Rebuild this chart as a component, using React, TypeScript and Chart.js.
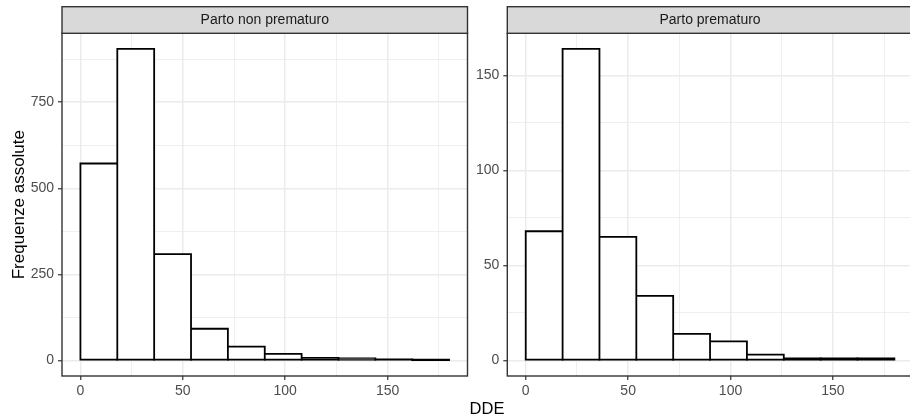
import React, { useEffect, useRef } from 'react';
import { Chart, registerables } from 'chart.js';
Chart.register(...registerables);

const binStarts = [0, 18, 36, 54, 72, 90, 108, 126, 144, 162];
const binWidth = 18;
const nonPretermCounts = [572, 905, 309, 92, 40, 19, 7, 6, 3, 1];
const pretermCounts = [68, 164, 65, 34, 14, 10, 3, 1, 1, 1];
const xMajorTicks = [0, 50, 100, 150];
const xMinorTicks = [25, 75, 125, 175];
const leftYMajor = [0, 250, 500, 750];
const leftYMinor = [125, 375, 625, 875];
const rightYMajor = [0, 50, 100, 150];
const rightYMinor = [25, 75, 125];
const panelTitles = ['Parto non prematuro', 'Parto prematuro'];
const xTitle = 'DDE';
const yTitle = 'Frequenze assolute';

const FONT = "'Liberation Sans', Arial, Helvetica, sans-serif";
const H = 415;
const STROKE = 1.8;

function makeTicks(major: number[], minor: number[]) {
  return [...major, ...minor].sort((a, b) => a - b).map((v) => ({ value: v }));
}

type PanelCfg = {
  counts: number[];
  title: string;
  yMajor: number[];
  yMinor: number[];
  yAxisWidth: number;
  padRight: number;
  drawYTitle: boolean;
};

function buildConfig(p: PanelCfg): any {
  const maxC = Math.max(...p.counts);
  const xMin = binStarts[0];
  const xMax = binStarts[binStarts.length - 1] + binWidth;
  const xr = xMax - xMin;
  const isMajorX = (v: number) => xMajorTicks.includes(v);
  const isMajorY = (v: number) => p.yMajor.includes(v);
  const points = binStarts.map((s, i) => ({ x: s + binWidth / 2, y: p.counts[i] }));

  const panelPlugin = {
    id: 'panelDecor',
    afterDraw(chart: any) {
      const { ctx, chartArea } = chart;
      const { left, right, top, bottom } = chartArea;
      ctx.save();
      ctx.strokeStyle = '#333333';
      ctx.lineWidth = 1.4;
      ctx.strokeRect(left, top, right - left, bottom - top);
      const stripTop = 6.7;
      ctx.fillStyle = '#D9D9D9';
      ctx.fillRect(left, stripTop, right - left, top - stripTop);
      ctx.strokeRect(left, stripTop, right - left, top - stripTop);
      ctx.fillStyle = '#1A1A1A';
      ctx.font = `14px ${FONT}`;
      ctx.textAlign = 'center';
      ctx.textBaseline = 'middle';
      ctx.fillText(p.title, (left + right) / 2, (stripTop + top) / 2 + 0.5);
      if (p.drawYTitle) {
        ctx.translate(19, (top + bottom) / 2);
        ctx.rotate(-Math.PI / 2);
        ctx.fillStyle = '#000000';
        ctx.font = `17px ${FONT}`;
        ctx.fillText(yTitle, 0, 0);
      }
      ctx.restore();
    },
  };

  const common = {
    data: points,
    borderWidth: 0,
    barPercentage: 1,
    categoryPercentage: 1,
    grouped: false,
  };

  return {
    type: 'bar',
    data: {
      datasets: [
        {
          ...common,
          // white interior (drawn on top)
          backgroundColor: (c: any) => {
            const ys = c.chart.scales && c.chart.scales.y;
            if (!ys || !c.raw) return '#FFFFFF';
            const h = Math.abs(ys.getPixelForValue(0) - ys.getPixelForValue(c.raw.y));
            return h > STROKE + 0.1 ? '#FFFFFF' : 'rgba(0,0,0,0)';
          },
          inflateAmount: -STROKE / 2,
        },
        {
          ...common,
          // black outline (drawn underneath)
          backgroundColor: '#000000',
          inflateAmount: STROKE / 2,
        },
      ],
    },
    options: {
      animation: false,
      responsive: false,
      events: [],
      layout: { padding: { left: 0, right: p.padRight, top: 33.3, bottom: 0 } },
      plugins: { legend: { display: false }, tooltip: { enabled: false }, title: { display: false } },
      scales: {
        x: {
          type: 'linear',
          offset: false,
          min: xMin - 0.05 * xr,
          max: xMax + 0.05 * xr,
          afterBuildTicks: (s: any) => {
            s.ticks = makeTicks(xMajorTicks, xMinorTicks);
          },
          afterFit: (s: any) => {
            s.height = H - 376;
          },
          border: { display: false },
          grid: {
            offset: false,
            color: '#EBEBEB',
            lineWidth: (c: any) => (isMajorX(c.tick.value) ? 1.5 : 0.8),
            tickColor: (c: any) => (isMajorX(c.tick.value) ? '#333333' : 'rgba(0,0,0,0)'),
            tickLength: 4,
            tickWidth: 1.2,
          },
          ticks: {
            autoSkip: false,
            maxRotation: 0,
            padding: 3,
            color: '#4D4D4D',
            font: { family: FONT, size: 14 },
            callback: (v: any) => (isMajorX(v) ? String(v) : ''),
          },
        },
        y: {
          type: 'linear',
          min: -0.05 * maxC,
          max: maxC * 1.05,
          afterBuildTicks: (s: any) => {
            s.ticks = makeTicks(p.yMajor, p.yMinor);
          },
          afterFit: (s: any) => {
            s.width = p.yAxisWidth;
          },
          border: { display: false },
          grid: {
            color: '#EBEBEB',
            lineWidth: (c: any) => (isMajorY(c.tick.value) ? 1.5 : 0.8),
            tickColor: (c: any) => (isMajorY(c.tick.value) ? '#333333' : 'rgba(0,0,0,0)'),
            tickLength: 4,
            tickWidth: 1.2,
          },
          ticks: {
            autoSkip: false,
            padding: 4,
            color: '#4D4D4D',
            font: { family: FONT, size: 14 },
            callback: (v: any) => (isMajorY(v) ? String(v) : ''),
          },
        },
      },
    },
    plugins: [panelPlugin],
  };
}

function Panel(props: { cfg: PanelCfg; left: number; width: number }) {
  const ref = useRef<HTMLCanvasElement | null>(null);
  useEffect(() => {
    if (!ref.current) return;
    const chart = new Chart(ref.current, buildConfig(props.cfg));
    return () => chart.destroy();
  }, []);
  return (
    <canvas
      ref={ref}
      width={props.width}
      height={H}
      style={{ position: 'absolute', left: props.left, top: 0, width: props.width, height: H }}
    />
  );
}

export default function App() {
  return (
    <div
      style={{
        position: 'absolute',
        left: 0,
        top: 0,
        width: 910,
        height: H,
        overflow: 'hidden',
        background: '#FFFFFF',
      }}
    >
      <Panel
        left={0}
        width={480}
        cfg={{
          counts: nonPretermCounts,
          title: panelTitles[0],
          yMajor: leftYMajor,
          yMinor: leftYMinor,
          yAxisWidth: 62,
          padRight: 12.5,
          drawYTitle: true,
        }}
      />
      <Panel
        left={468}
        width={460}
        cfg={{
          counts: pretermCounts,
          title: panelTitles[1],
          yMajor: rightYMajor,
          yMinor: rightYMinor,
          yAxisWidth: 39.3,
          padRight: 15.2,
          drawYTitle: false,
        }}
      />
      <div
        style={{
          position: 'absolute',
          left: 0,
          width: 974,
          top: 399,
          textAlign: 'center',
          fontFamily: FONT,
          fontSize: 16.5,
          lineHeight: '18px',
          color: '#000000',
        }}
      >
        {xTitle}
      </div>
    </div>
  );
}
